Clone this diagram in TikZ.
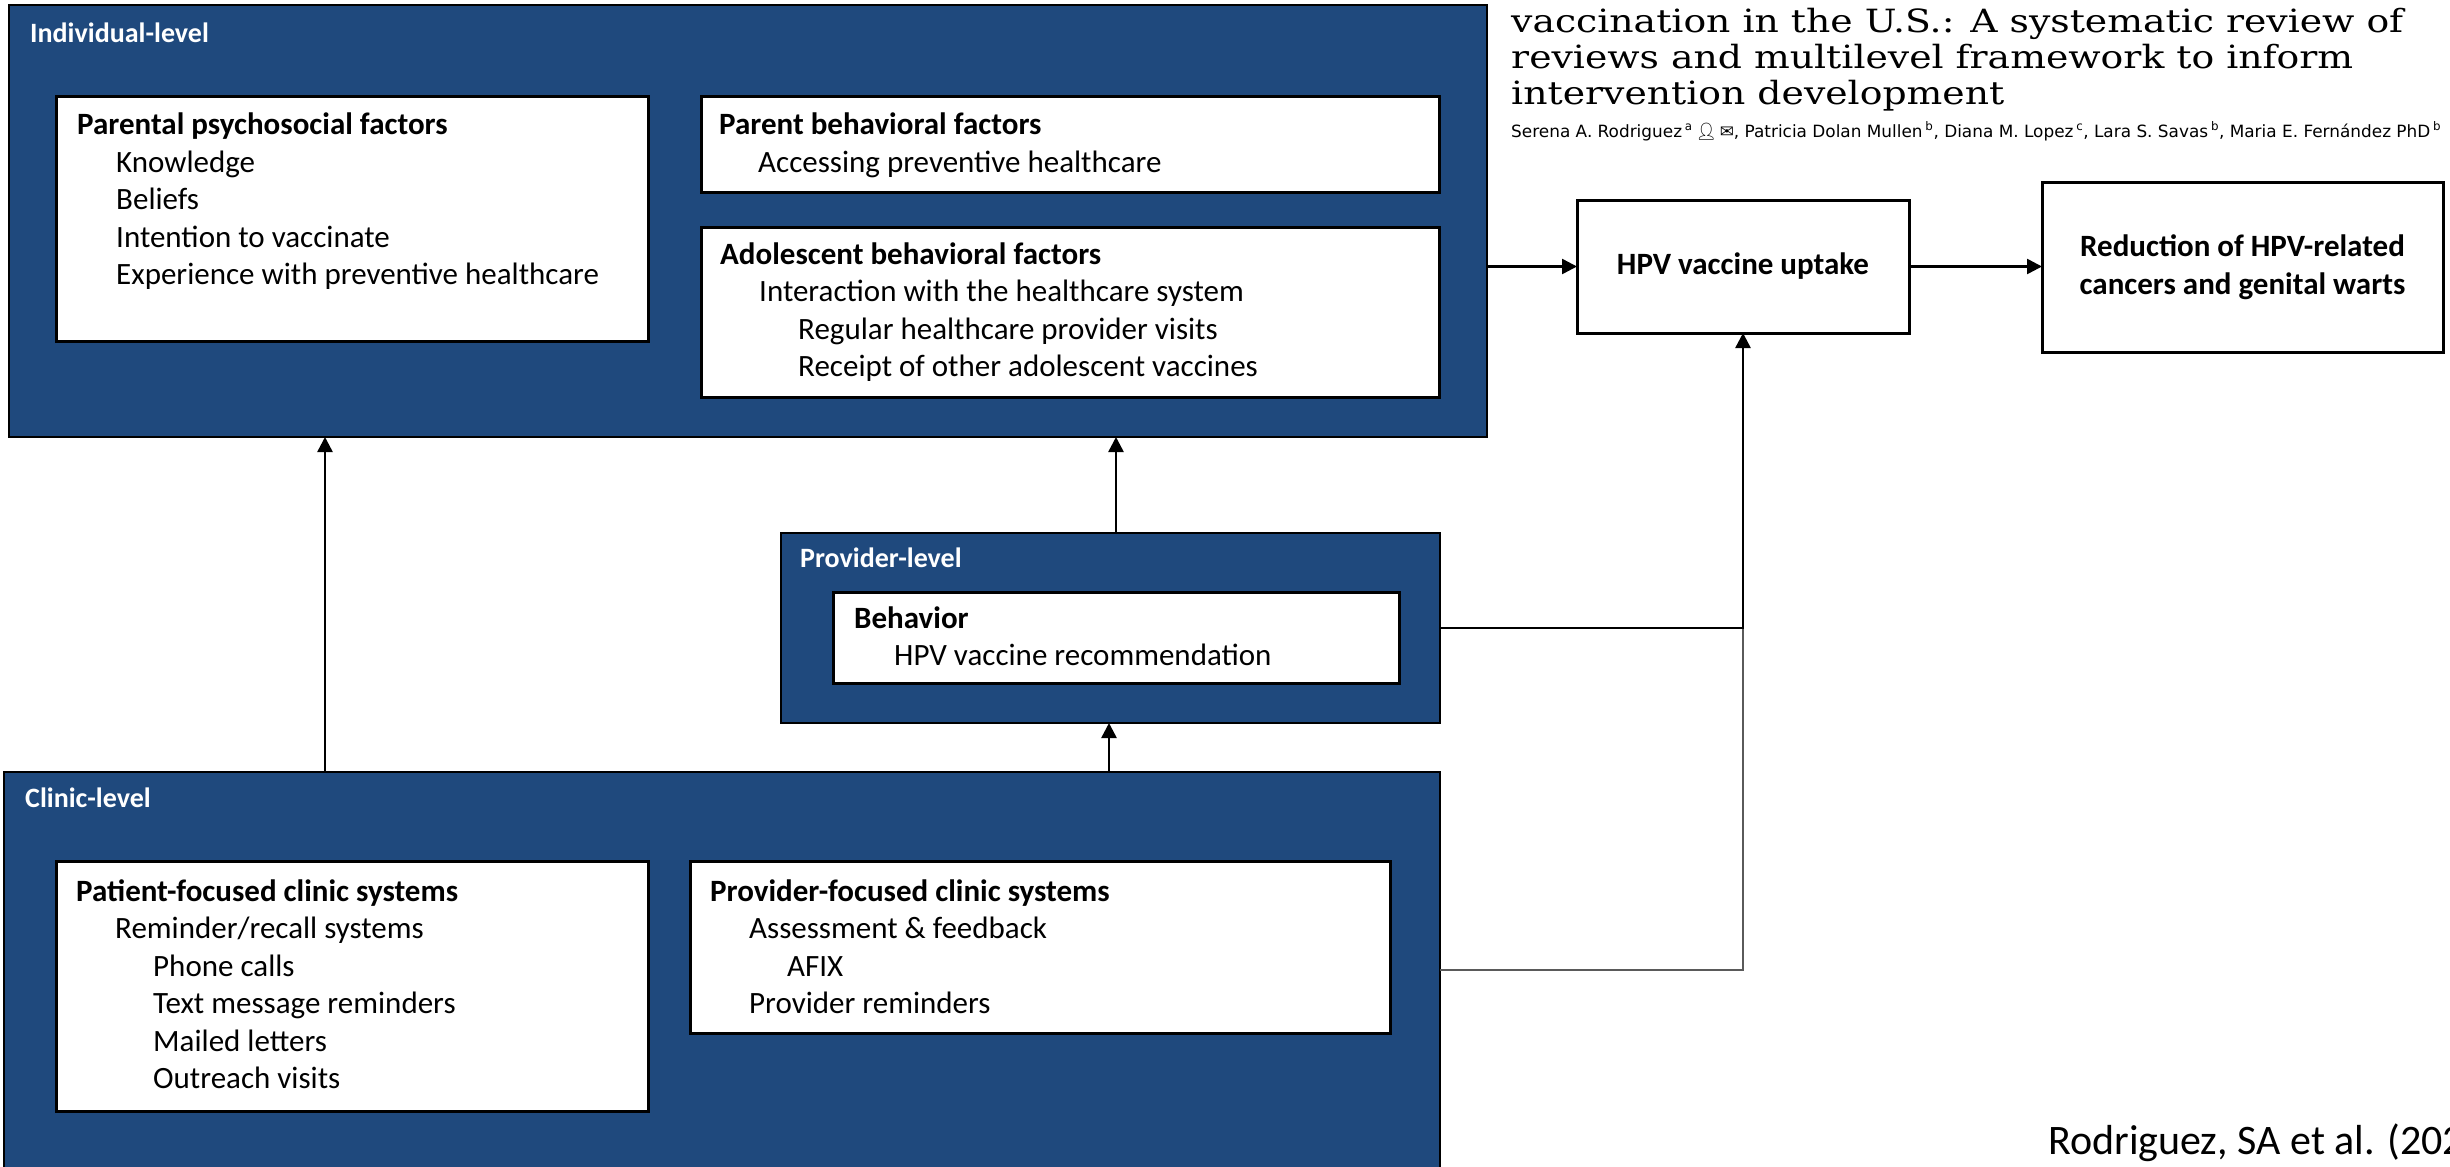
\documentclass[tikz,border=0pt]{standalone}
\usepackage{fontspec}
\usepackage{graphicx}
\setmainfont{Carlito}
\newfontfamily\titlefont{DejaVu Serif}
\newfontfamily\authorfont{DejaVu Sans}
\newfontfamily\iconfont{Noto Emoji}
\usetikzlibrary{arrows.meta}
\definecolor{levelblue}{HTML}{1F497D}
\definecolor{linkgray}{HTML}{5A5A5A}
\newcommand\bodysize{\fontsize{31}{37.5}\selectfont}
\newcommand\levelsize{\fontsize{28}{34}\selectfont\bfseries}
% article heading lines are set in a slightly widened serif
\newcommand\widetitle[1]{\scalebox{1.18}[1]{\titlefont\fontsize{32}{36}\selectfont #1}}

\begin{document}
\begin{tikzpicture}[x=1pt,y=-1pt,
  levelbox/.style={draw=black, line width=2pt, fill=levelblue, anchor=north west, inner sep=0pt, outer sep=0pt},
  card/.style={draw=black, line width=3pt, fill=white, anchor=north west, inner sep=0pt, outer sep=0pt},
  outcome/.style={card, font=\bodysize\bfseries, align=center},
  lvl/.style={anchor=base west, inner sep=0pt, font=\levelsize, text=white},
  hd/.style={anchor=base west, inner sep=0pt, font=\bodysize\bfseries},
  tx/.style={anchor=base west, inner sep=0pt, font=\bodysize},
  arr/.style={-{Triangle[length=15pt,width=15pt]}, line width=2.5pt},
  feed/.style={line width=1.5pt, draw=linkgray},
  ttl/.style={anchor=base west, inner sep=0pt}
]
\useasboundingbox (0,0) rectangle (2450,1167);

% ---------- individual level ----------
\node[levelbox, minimum width=1478pt, minimum height=432pt] (indiv) at (9,5) {};
\node[lvl] (indlbl) at (30,42) {Individual-level};

\node[card, minimum width=592pt, minimum height=245pt] (psych) at (56,96) {};
\node[hd] (pp0) at (77,134.5) {Parental psychosocial factors};
\node[tx] (pp1) at (116,172) {Knowledge};
\node[tx] (pp2) at (116,209.5) {Beliefs};
\node[tx] (pp3) at (116,247) {Intention to vaccinate};
\node[tx] (pp4) at (116,284.5) {Experience with preventive healthcare};

\node[card, minimum width=738pt, minimum height=96pt] (parbeh) at (701,96) {};
\node[hd] (pb0) at (719,134.5) {Parent behavioral factors};
\node[tx] (pb1) at (758,172) {Accessing preventive healthcare};

\node[card, minimum width=738pt, minimum height=170pt] (adobeh) at (701,227) {};
\node[hd] (ab0) at (720,264) {Adolescent behavioral factors};
\node[tx] (ab1) at (759,301.5) {Interaction with the healthcare system};
\node[tx] (ab2) at (798,339) {Regular healthcare provider visits};
\node[tx] (ab3) at (798,376.5) {Receipt of other adolescent vaccines};

% ---------- provider level ----------
\node[levelbox, minimum width=659pt, minimum height=190pt] (prov) at (781,533) {};
\node[lvl] (provlbl) at (800,567) {Provider-level};
\node[card, minimum width=566pt, minimum height=91pt] (behav) at (833,592) {};
\node[hd] (bh0) at (854,628) {Behavior};
\node[tx] (bh1) at (894,665.5) {HPV vaccine recommendation};

% ---------- clinic level ----------
\node[levelbox, minimum width=1436pt, minimum height=410pt] (clinic) at (4,772) {};
\node[lvl] (cliniclbl) at (25,807) {Clinic-level};

\node[card, minimum width=592pt, minimum height=250pt] (patsys) at (56,861) {};
\node[hd] (ps0) at (76,901) {Patient-focused clinic systems};
\node[tx] (ps1) at (115,938.5) {Reminder/recall systems};
\node[tx] (ps2) at (153,976) {Phone calls};
\node[tx] (ps3) at (153,1013.5) {Text message reminders};
\node[tx] (ps4) at (153,1051) {Mailed letters};
\node[tx] (ps5) at (153,1088.5) {Outreach visits};

\node[card, minimum width=700pt, minimum height=172pt] (provsys) at (690,861) {};
\node[hd] (fs0) at (710,901) {Provider-focused clinic systems};
\node[tx] (fs1) at (749,938.5) {Assessment \& feedback};
\node[tx] (fs2) at (787,976) {AFIX};
\node[tx] (fs3) at (749,1013.5) {Provider reminders};

% ---------- outcomes ----------
\node[outcome, minimum width=332pt, minimum height=133pt] (uptake) at (1577,200) {HPV vaccine uptake};
\node[outcome, minimum width=401pt, minimum height=170pt] (reduce) at (2042,182) {Reduction of HPV-related\\cancers and genital warts};

% ---------- connectors ----------
\coordinate (xa) at (325,0);
\coordinate (xb) at (1116,0);
\coordinate (xc) at (1109,0);
\coordinate (yf) at (0,970);
\coordinate (join) at (uptake.south |- prov.east);

\draw[arr] (indiv.east |- uptake.west) -- (uptake.west);
\draw[arr] (uptake.east) -- (reduce.west |- uptake.east);
\draw[arr] (clinic.north -| xa) -- (indiv.south -| xa);
\draw[arr] (prov.north -| xb) -- (indiv.south -| xb);
\draw[arr] (clinic.north -| xc) -- (prov.south -| xc);
\draw[feed] (clinic.east |- yf) -| (join);
\draw[arr] (prov.east) -| (uptake.south);

% ---------- article heading ----------
\node[ttl] (t1) at (1511,32) {\widetitle{vaccination in the U.S.: A systematic review of}};
\node[ttl] (t2) at (1511,68) {\widetitle{reviews and multilevel framework to inform}};
\node[ttl] (t3) at (1511,104) {\widetitle{intervention development}};
\node[anchor=base west, inner sep=0pt] (authors) at (1511,137)
  {\resizebox{930pt}{!}{\authorfont\fontsize{16}{19}\selectfont Serena A. Rodriguez\,\textsuperscript{a}\,{\iconfont 👤}\,✉, Patricia Dolan Mullen\,\textsuperscript{b}, Diana M. Lopez\,\textsuperscript{c}, Lara S. Savas\,\textsuperscript{b}, Maria E. Fernández PhD\,\textsuperscript{b}}};

\node[anchor=base west, inner sep=0pt, font=\fontsize{42}{50}\selectfont] (cite) at (2048,1154) {Rodriguez, SA et al. (202};
\end{tikzpicture}
\end{document}
